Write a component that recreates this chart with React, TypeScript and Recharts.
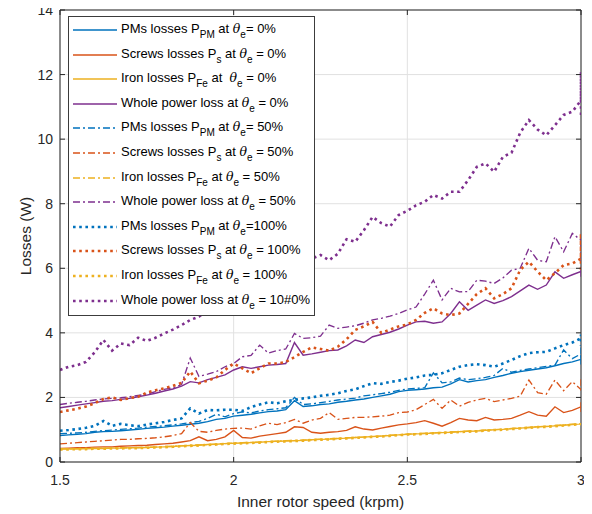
import React from 'react';
import { LineChart, Line, XAxis, YAxis, CartesianGrid, Legend, ReferenceLine } from 'recharts';

// Inner rotor speed (krpm); the last two entries are the vertical spread drawn at 3 krpm
const SPEED = [1.5,1.525,1.55,1.575,1.6,1.625,1.65,1.675,1.7,1.725,1.75,1.775,1.8,1.825,1.85,1.875,1.9,1.925,1.95,1.975,2,2.025,2.05,2.075,2.1,2.125,2.15,2.175,2.2,2.225,2.25,2.275,2.3,2.325,2.35,2.375,2.4,2.425,2.45,2.475,2.5,2.525,2.55,2.575,2.6,2.625,2.65,2.675,2.7,2.725,2.75,2.775,2.8,2.825,2.85,2.875,2.9,2.925,2.95,2.975,3,3,3];

const PM_0 = [0.82,0.84,0.86,0.88,0.92,0.94,0.95,0.97,0.99,1.01,1.04,1.06,1.08,1.11,1.14,1.17,1.20,1.25,1.32,1.35,1.42,1.45,1.48,1.52,1.56,1.58,1.62,1.90,1.72,1.74,1.78,1.80,1.85,1.88,1.92,1.95,2.00,2.05,2.10,2.18,2.22,2.24,2.26,2.30,2.32,2.42,2.55,2.48,2.52,2.55,2.62,2.68,2.75,2.80,2.84,2.88,2.92,2.98,3.05,3.10,3.18,3.32,3.02];
const SCREWS_0 = [0.42,0.43,0.44,0.44,0.46,0.47,0.47,0.49,0.50,0.51,0.52,0.54,0.56,0.58,0.62,0.66,0.78,0.66,0.70,0.78,0.98,0.76,0.74,0.80,0.84,0.88,0.92,1.09,1.07,0.92,0.89,0.92,0.94,0.98,1.09,1.02,0.99,1.05,1.10,1.15,1.18,1.22,1.28,1.20,1.11,1.22,1.35,1.30,1.28,1.38,1.30,1.32,1.35,1.45,1.56,1.45,1.42,1.71,1.53,1.60,1.71,1.85,1.55];
const IRON_0 = [0.40,0.40,0.41,0.41,0.42,0.42,0.43,0.43,0.44,0.44,0.45,0.46,0.47,0.48,0.50,0.51,0.52,0.54,0.55,0.57,0.58,0.59,0.60,0.61,0.63,0.64,0.65,0.66,0.67,0.69,0.70,0.71,0.73,0.74,0.76,0.77,0.79,0.80,0.82,0.84,0.86,0.87,0.88,0.90,0.91,0.92,0.94,0.95,0.96,0.98,1.00,1.01,1.03,1.05,1.07,1.09,1.10,1.12,1.14,1.16,1.18,1.20,1.17];
const WHOLE_0 = [1.68,1.72,1.76,1.80,1.84,1.88,1.90,1.94,1.97,2.02,2.07,2.13,2.20,2.26,2.35,2.49,2.45,2.55,2.62,2.70,2.85,2.95,2.90,2.95,3.00,3.02,3.05,3.70,3.31,3.35,3.40,3.45,3.47,3.60,3.78,3.70,3.88,3.95,4.02,4.12,4.24,4.34,4.36,4.30,4.34,4.60,4.96,4.70,4.86,5.02,4.91,5.00,5.12,5.30,5.48,5.35,5.48,5.89,5.69,5.80,5.90,6.05,5.74];

const PM_50 = [0.88,0.89,0.90,0.92,0.95,0.97,0.99,1.01,1.03,1.05,1.08,1.10,1.12,1.15,1.18,1.22,1.26,1.35,1.48,1.40,1.50,1.55,1.52,1.58,1.62,1.65,1.68,2.00,1.78,1.80,1.84,1.88,1.92,1.95,1.98,2.05,2.08,2.12,2.16,2.22,2.26,2.28,2.30,2.76,2.45,2.48,2.60,2.55,2.58,2.62,2.68,2.90,2.78,2.84,2.88,2.92,2.96,3.00,3.47,3.20,3.35,3.55,3.22];
const SCREWS_50 = [0.56,0.58,0.60,0.62,0.64,0.66,0.68,0.70,0.70,0.72,0.73,0.75,0.78,0.82,0.88,1.22,0.95,0.92,0.98,1.02,1.04,1.05,1.02,1.12,1.20,1.16,1.22,1.32,1.20,1.30,1.35,1.53,1.32,1.35,1.38,1.38,1.40,1.42,1.45,1.53,1.55,1.62,1.78,1.94,1.66,1.92,1.73,1.85,1.92,1.97,1.87,1.92,1.97,2.04,2.54,2.15,2.10,2.54,2.21,2.49,2.24,2.56,2.20];
const IRON_50 = [0.41,0.41,0.41,0.42,0.42,0.43,0.43,0.44,0.44,0.45,0.46,0.46,0.48,0.49,0.50,0.52,0.53,0.54,0.56,0.57,0.59,0.60,0.61,0.62,0.63,0.65,0.66,0.67,0.68,0.69,0.71,0.72,0.73,0.75,0.76,0.78,0.79,0.81,0.83,0.84,0.86,0.88,0.89,0.90,0.92,0.93,0.94,0.96,0.97,0.99,1.00,1.02,1.04,1.05,1.07,1.09,1.11,1.13,1.15,1.17,1.19,1.21,1.18];
const WHOLE_50 = [1.78,1.82,1.85,1.88,1.92,1.95,1.97,1.99,2.02,2.06,2.10,2.18,2.25,2.30,2.40,3.22,2.65,2.72,2.80,2.95,3.05,3.26,3.30,3.62,3.37,3.45,3.50,3.98,3.83,3.85,3.90,4.24,4.14,4.18,4.22,4.30,4.40,4.45,4.52,4.60,4.71,4.80,5.20,5.63,5.02,5.38,5.27,5.28,5.63,5.60,5.53,5.70,5.94,6.00,6.62,6.25,6.20,6.98,6.51,7.08,6.87,7.05,6.20];

const PM_100 = [0.97,0.99,1.02,1.06,1.12,1.27,1.12,1.18,1.14,1.11,1.16,1.20,1.24,1.30,1.35,1.66,1.50,1.61,1.60,1.62,1.62,1.58,1.70,1.78,1.85,1.82,1.88,1.92,1.97,2.00,2.05,2.08,2.13,2.20,2.25,2.35,2.44,2.42,2.48,2.52,2.58,2.62,2.68,2.70,2.75,2.85,2.95,3.00,3.03,3.00,2.95,3.05,3.16,3.28,3.37,3.40,3.41,3.52,3.62,3.70,3.83,3.95,3.60];
const SCREWS_100 = [1.55,1.60,1.65,1.72,1.82,1.95,2.00,1.92,1.98,2.02,2.15,2.22,2.28,2.36,2.45,2.80,2.44,2.52,2.62,2.85,3.05,2.90,2.75,2.90,3.05,3.05,3.10,3.25,3.41,3.55,3.50,3.45,3.57,3.80,4.09,4.20,4.34,4.00,4.10,4.20,4.26,4.40,4.62,4.76,4.60,4.55,4.60,4.90,5.20,5.38,5.07,5.20,5.38,5.95,6.20,5.90,5.63,5.85,6.10,6.15,6.30,7.08,5.84];
const IRON_100 = [0.39,0.39,0.40,0.40,0.41,0.41,0.42,0.42,0.43,0.43,0.44,0.45,0.46,0.47,0.49,0.50,0.51,0.53,0.54,0.56,0.57,0.58,0.59,0.60,0.62,0.63,0.64,0.65,0.66,0.68,0.69,0.70,0.72,0.73,0.75,0.76,0.78,0.79,0.81,0.83,0.85,0.86,0.87,0.89,0.90,0.91,0.93,0.94,0.95,0.97,0.99,1.00,1.02,1.04,1.06,1.08,1.09,1.11,1.13,1.15,1.17,1.19,1.16];
const WHOLE_100 = [2.85,2.95,3.00,3.10,3.40,3.78,3.45,3.67,3.62,3.85,3.75,3.85,3.98,4.10,4.24,4.40,4.50,4.71,4.85,4.95,5.05,5.15,5.30,5.40,5.50,5.70,5.85,5.95,6.10,6.30,6.41,6.25,6.45,6.90,6.82,7.18,7.59,7.40,7.29,7.65,7.78,7.95,8.06,8.27,8.16,8.37,8.37,8.73,9.14,9.25,8.99,9.45,9.58,10.20,10.59,10.30,10.12,10.43,10.75,10.85,11.20,12.08,10.70];

const X_TICKS = [1.5, 2, 2.5, 3];
const Y_TICKS = [0, 2, 4, 6, 8, 10, 12, 14];

type Seg = string | { sub: string } | { it: string };
const LABELS: Seg[][] = [
  ['PMs losses P', { sub: 'PM' }, ' at ', { it: 'θ' }, { sub: 'e' }, '= 0%'],
  ['Screws losses P', { sub: 's' }, ' at ', { it: 'θ' }, { sub: 'e' }, ' = 0%'],
  ['Iron losses P', { sub: 'Fe' }, ' at  ', { it: 'θ' }, { sub: 'e' }, ' = 0%'],
  ['Whole power loss at ', { it: 'θ' }, { sub: 'e' }, ' = 0%'],
  ['PMs losses P', { sub: 'PM' }, ' at ', { it: 'θ' }, { sub: 'e' }, '= 50%'],
  ['Screws losses P', { sub: 's' }, ' at ', { it: 'θ' }, { sub: 'e' }, ' = 50%'],
  ['Iron losses P', { sub: 'Fe' }, ' at ', { it: 'θ' }, { sub: 'e' }, ' = 50%'],
  ['Whole power loss at ', { it: 'θ' }, { sub: 'e' }, ' = 50%'],
  ['PMs losses P', { sub: 'PM' }, ' at ', { it: 'θ' }, { sub: 'e' }, '=100%'],
  ['Screws losses P', { sub: 's' }, ' at ', { it: 'θ' }, { sub: 'e' }, ' = 100%'],
  ['Iron losses P', { sub: 'Fe' }, ' at ', { it: 'θ' }, { sub: 'e' }, ' = 100%'],
  ['Whole power loss at ', { it: 'θ' }, { sub: 'e' }, ' = 10#0%'],
];

const BLUE = '#0072BD';
const ORANGE = '#D95319';
const YELLOW = '#EDB120';
const PURPLE = '#7E2F8E';
const AX = '#262626';

const STYLES: Record<string, { dash?: string; width: number }> = {
  solid: { width: 1.4 },
  dashdot: { dash: '7 3 2 3', width: 1.35 },
  dotted: { dash: '2.6 3.6', width: 2.6 },
};

const SERIES = [
  { key: 'pm0', values: PM_0, color: BLUE, style: 'solid' },
  { key: 'sc0', values: SCREWS_0, color: ORANGE, style: 'solid' },
  { key: 'fe0', values: IRON_0, color: YELLOW, style: 'solid' },
  { key: 'wh0', values: WHOLE_0, color: PURPLE, style: 'solid' },
  { key: 'pm50', values: PM_50, color: BLUE, style: 'dashdot' },
  { key: 'sc50', values: SCREWS_50, color: ORANGE, style: 'dashdot' },
  { key: 'fe50', values: IRON_50, color: YELLOW, style: 'dashdot' },
  { key: 'wh50', values: WHOLE_50, color: PURPLE, style: 'dashdot' },
  { key: 'pm100', values: PM_100, color: BLUE, style: 'dotted' },
  { key: 'sc100', values: SCREWS_100, color: ORANGE, style: 'dotted' },
  { key: 'fe100', values: IRON_100, color: YELLOW, style: 'dotted' },
  { key: 'wh100', values: WHOLE_100, color: PURPLE, style: 'dotted' },
];

const rows = SPEED.map((x, i) => {
  const r: Record<string, number> = { x };
  SERIES.forEach((s) => { r[s.key] = s.values[i]; });
  return r;
});

const W = 576;
const H = 506;
const PLOT_LEFT = 52;
const PLOT_RIGHT = 573;
const PLOT_TOP = 2;
const PLOT_BOTTOM = 454;
const FONT = '"Liberation Sans", Arial, Helvetica, sans-serif';

const XTick = (props: any) => {
  const { x, payload } = props;
  return (
    <g>
      <line x1={x} x2={x} y1={PLOT_BOTTOM} y2={PLOT_BOTTOM - 5} stroke={AX} />
      <line x1={x} x2={x} y1={PLOT_TOP} y2={PLOT_TOP + 5} stroke={AX} />
      <text x={x} y={PLOT_BOTTOM + 23} textAnchor="middle" fontSize={14} fontFamily={FONT} fill={AX}>
        {payload.value}
      </text>
    </g>
  );
};

const YTick = (props: any) => {
  const { y, payload } = props;
  return (
    <g>
      <line x1={PLOT_LEFT} x2={PLOT_LEFT + 5} y1={y} y2={y} stroke={AX} />
      <line x1={PLOT_RIGHT} x2={PLOT_RIGHT - 5} y1={y} y2={y} stroke={AX} />
      <text x={PLOT_LEFT - 7} y={y + 5} textAnchor="end" fontSize={14} fontFamily={FONT} fill={AX}>
        {payload.value}
      </text>
    </g>
  );
};

const XLabel = (props: any) => {
  const vb = props.viewBox || {};
  const cx = (vb.x ?? PLOT_LEFT) + (vb.width ?? PLOT_RIGHT - PLOT_LEFT) / 2;
  return (
    <text x={cx} y={PLOT_BOTTOM + 45} textAnchor="middle" fontSize={15.5} fontFamily={FONT} fill={AX}>
      Inner rotor speed (krpm)
    </text>
  );
};

const YLabel = (props: any) => {
  const vb = props.viewBox || {};
  const cy = (vb.y ?? PLOT_TOP) + (vb.height ?? PLOT_BOTTOM - PLOT_TOP) / 2;
  const cx = 17;
  return (
    <text x={cx} y={cy} transform={`rotate(-90 ${cx} ${cy})`} textAnchor="middle" dominantBaseline="central" fontSize={15.5} fontFamily={FONT} fill={AX}>
      Losses (W)
    </text>
  );
};

const renderSeg = (seg: Seg, j: number) => {
  if (typeof seg === 'string') return <span key={j}>{seg}</span>;
  if ('sub' in seg)
    return (
      <span key={j} style={{ fontSize: 10, position: 'relative', top: 5 }}>
        {seg.sub}
      </span>
    );
  return (
    <span key={j} style={{ fontStyle: 'italic', fontFamily: '"DejaVu Serif", "Liberation Serif", serif', fontSize: 12.5 }}>
      {seg.it}
    </span>
  );
};

const LegendBox = () => (
  <div
    style={{
      position: 'relative',
      width: 245,
      height: 298,
      background: '#fff',
      border: '1px solid #3c3c3c',
      fontFamily: FONT,
      fontSize: 13,
      color: '#000',
    }}
  >
    {SERIES.map((s, i) => {
      const st = STYLES[s.style];
      const cy = 13 + 24.6 * i;
      return (
        <div key={s.key} style={{ position: 'absolute', left: 0, top: cy - 8, height: 16, width: 300 }}>
          <svg width={44} height={6} style={{ position: 'absolute', left: 4, top: 5 }}>
            <line x1={0} x2={44} y1={3} y2={3} stroke={s.color} strokeWidth={st.width} strokeDasharray={st.dash} />
          </svg>
          <div style={{ position: 'absolute', left: 52, top: -1, lineHeight: '16px', whiteSpace: 'pre' }}>
            {LABELS[i].map(renderSeg)}
          </div>
        </div>
      );
    })}
  </div>
);

export default function App() {
  return (
    <>
      <style>{'svg.recharts-surface { overflow: visible; }'}</style>
      <LineChart width={W} height={H} data={rows} margin={{ top: PLOT_TOP, right: W - PLOT_RIGHT, bottom: 0, left: 0 }}>
        <CartesianGrid stroke="#e1e1e1" strokeWidth={1} />
        <XAxis
          dataKey="x"
          type="number"
          domain={[1.5, 3]}
          ticks={X_TICKS}
          interval={0}
          height={H - PLOT_BOTTOM}
          axisLine={{ stroke: AX }}
          tickLine={false}
          tick={<XTick />}
          label={<XLabel />}
          allowDataOverflow
        />
        <YAxis
          type="number"
          domain={[0, 14]}
          ticks={Y_TICKS}
          interval={0}
          width={PLOT_LEFT}
          axisLine={{ stroke: AX }}
          tickLine={false}
          tick={<YTick />}
          label={<YLabel />}
          allowDataOverflow
        />
        <ReferenceLine y={14} stroke={AX} />
        <ReferenceLine x={3} stroke={AX} />
        {SERIES.map((s) => {
          const st = STYLES[s.style];
          return (
            <Line
              key={s.key}
              dataKey={s.key}
              type="linear"
              stroke={s.color}
              strokeWidth={st.width}
              strokeDasharray={st.dash}
              dot={false}
              activeDot={false}
              isAnimationActive={false}
            />
          );
        })}
        <Legend
          layout="vertical"
          align="center"
          verticalAlign="middle"
          content={() => <LegendBox />}
          wrapperStyle={{ position: 'absolute', left: 60, top: 8, width: 247, height: 300, margin: 0, padding: 0 }}
        />
      </LineChart>
    </>
  );
}
